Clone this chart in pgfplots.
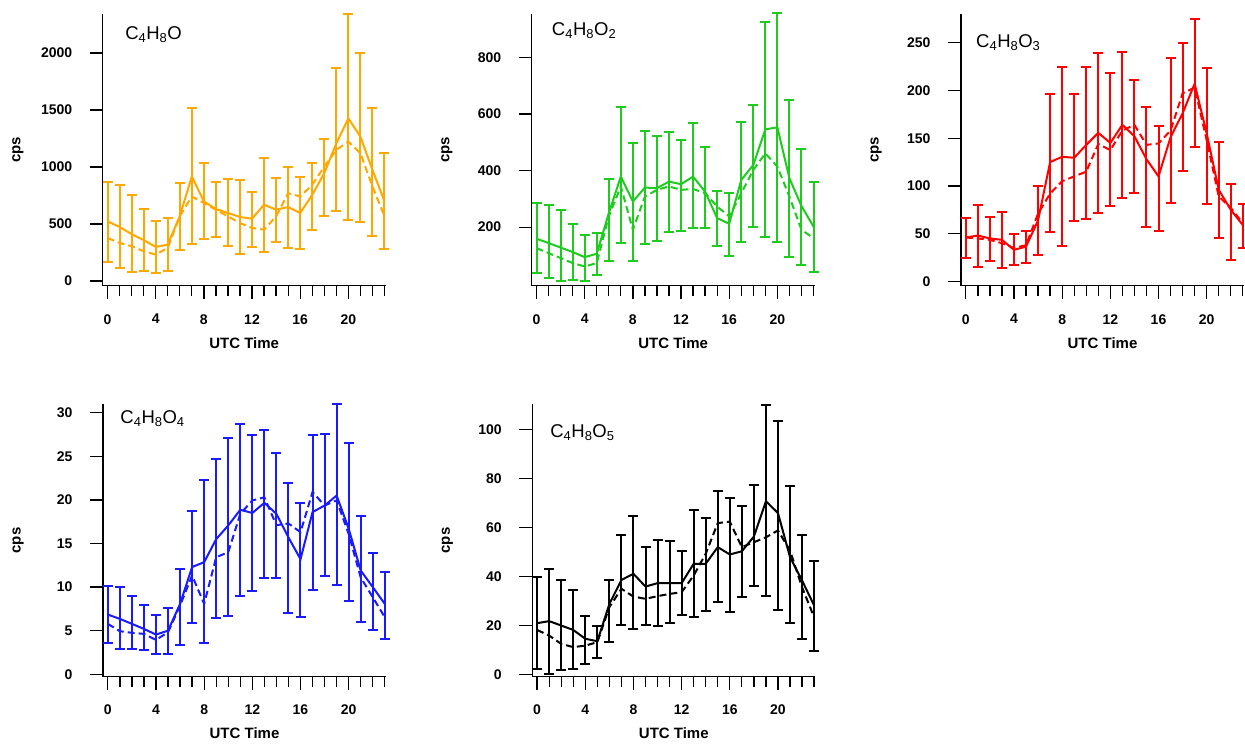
\documentclass[border=0pt]{standalone}
\usepackage{fontspec}
\setmainfont{Liberation Sans}
\usepackage{pgfplots}
\pgfplotsset{compat=1.18}
\usepackage{pgfplotstable}
\definecolor{corange}{HTML}{FFA800}
\definecolor{cgreen}{HTML}{1ECC1E}
\definecolor{cred}{HTML}{FF0000}
\definecolor{cblue}{HTML}{1A1AFF}
\definecolor{cblack}{HTML}{000000}

% x y(mean) d(dashed) hi lo
\pgfplotstableread{
x y d hi lo
0 524 378 867 169
1 475 335 844 116
2 412 306 757 79
3 360 262 632 93
4 300 233 524 73
5 320 291 553 93
6 570 568 859 277
7 917 742 1520 329
8 699 684 1033 370
9 632 626 867 384
10 597 568 897 306
11 562 509 888 239
12 547 466 783 300
13 670 451 1077 256
14 626 568 908 341
15 649 771 1004 291
16 597 742 917 282
17 757 844 1039 451
18 946 1004 1246 568
19 1208 1150 1869 617
20 1426 1223 2338 539
21 1266 1121 2003 515
22 975 830 1520 399
23 699 568 1127 282
}\tabA

\pgfplotstableread{
x y d hi lo
0 159 126 285 38
1 144 108 279 20
2 128 91 259 8
3 112 73 212 14
4 94 61 173 8
5 106 73 181 31
6 249 238 371 81
7 379 344 626 144
8 291 191 496 81
9 340 308 540 140
10 338 332 522 152
11 361 344 538 182
12 352 332 508 187
13 379 335 567 196
14 325 320 485 196
15 232 273 328 135
16 212 238 320 99
17 367 320 571 146
18 420 402 631 200
19 546 461 926 165
20 553 414 958 148
21 373 308 649 95
22 275 191 476 65
23 202 161 360 40
}\tabB

\pgfplotstableread{
x y d hi lo
0 46 46 66 25
1 48 45 80 15
2 45 43.5 67 21
3 43.5 40 73 14
4 33 35 50 17.4
5 36.5 38 53 19
6 64 71 100 28
7 125 92 196 51.5
8 130.5 105 224.6 36.6
9 129.5 110 196 63
10 143 115 224.6 65
11 155.6 144 239.6 72
12 145 137.5 218.7 79
13 164 158 240 87
14 152 164 210.7 93
15 128 143 183 57
16 110 144.5 162.6 53
17 151 158 234 82
18 176 197 249.6 115.6
19 207 203 275 141
20 155 148 223.5 81
21 96 89 146 45
22 75 77 102 22.6
23 59 61 81 35
}\tabC

\pgfplotstableread{
x y d hi lo
0 6.85 5.78 10.18 3.56
1 6.35 4.94 10.0 2.9
2 5.78 4.75 8.96 2.9
3 5.2 4.63 7.96 2.8
4 4.55 3.94 6.85 2.33
5 5.0 4.82 7.6 2.33
6 8.07 7.88 12.1 3.4
7 12.3 11.33 18.7 5.9
8 12.86 8.07 22.3 3.56
9 15.5 13.43 24.7 6.47
10 17.07 14.0 27.1 6.7
11 18.87 18.4 28.7 8.96
12 18.5 19.94 27.5 9.5
13 19.67 20.3 28.0 11.06
14 18.4 17.1 25.4 11.06
15 15.7 17.3 21.9 7.05
16 13.2 16.3 19.6 6.6
17 18.6 20.9 27.5 9.7
18 19.36 19.36 27.6 11.3
19 20.5 19.94 31.0 10.26
20 16.7 16.1 26.5 8.38
21 11.9 11.1 18.1 6.05
22 10.0 8.84 13.9 5.1
23 8.07 6.54 11.7 4.06
}\tabD

\pgfplotstableread{
x y d hi lo
0 20.95 18.2 39.7 2.3
1 21.8 15.9 42.9 0.3
2 20 12.5 38.4 1.9
3 18.2 11.2 34.6 2.2
4 14.6 11.8 23.8 4.1
5 13.6 13.2 20 6.8
6 28.8 27.5 38.6 13.2
7 38.6 35 57 20.3
8 41.1 31.8 64.6 18.4
9 35.9 30.9 52 20.4
10 37.3 32 55.1 19.7
11 37.3 32.9 54.3 21.1
12 37.3 33.6 50.6 24.1
13 45.2 40.4 67.2 23.4
14 45.2 49.3 64 26
15 52 61.8 74.7 29.5
16 49 62.4 72.1 25.4
17 50.3 52 68.6 31.6
18 56.3 54 77.4 36
19 70.7 56 110 32.2
20 65.9 58.8 103.3 26.5
21 47.9 50.6 77.1 21.1
22 38.4 35.6 57 14.6
23 28.2 23.4 46.3 9.8
}\tabE

\pgfplotsset{
  igor/.style={
    width=283pt, height=272pt, scale only axis,
    anchor=south west,
    xmin=-0.4, xmax=23.1,
    axis lines*=left,
    axis line style={line width=1.3pt},
    tick style={line width=1.3pt, black},
    minor tick style={line width=1.3pt, black},
    tick align=outside,
    major tick length=13pt, minor tick length=10pt,
    xtick={0,4,...,20}, minor xtick={0,...,23},
    ticklabel style={font=\fontsize{14}{14}\selectfont\bfseries},
    /pgf/number format/assume math mode=true,
    /pgf/number format/1000 sep={},
    xticklabel style={yshift=-12pt},
    yticklabel style={xshift=-14pt},
    xlabel={UTC Time}, ylabel={cps},
    label style={font=\fontsize{15}{15}\selectfont\bfseries},
    xlabel style={at={(axis description cs:0.5,-0.21)}, anchor=center},
    ylabel style={at={(axis description cs:-0.30,0.5)}, anchor=center},
    clip=false,
  },
  mean/.style={line width=2pt, error bars/.cd, y dir=both, y explicit,
    error bar style={line width=2pt},
    error mark options={rotate=90, mark size=5pt, line width=2pt}},
  dsh/.style={line width=2pt, dash pattern=on 7pt off 4pt},
}
\newcommand{\lab}{\fontsize{18.5}{19}\selectfont}

\begin{document}
\begin{tikzpicture}[x=1pt,y=1pt]
\useasboundingbox (0,0) rectangle (1245,747);

\begin{axis}[igor, at={(102.7pt,461.3pt)}, ymin=-40, ymax=2344, ytick={0,500,...,2000}]
\addplot[corange, mean] table[x=x, y=y, y error plus expr=\thisrow{hi}-\thisrow{y}, y error minus expr=\thisrow{y}-\thisrow{lo}] {\tabA};
\addplot[corange, dsh] table[x=x, y=d] {\tabA};
\node[anchor=base west, inner sep=0pt] at (rel axis cs:0.079,0.904) {\lab C\textsubscript{4}H\textsubscript{8}O};
\end{axis}

\begin{axis}[igor, at={(531.7pt,461.3pt)}, ymin=-7, ymax=955, ytick={200,400,600,800}]
\addplot[cgreen, mean] table[x=x, y=y, y error plus expr=\thisrow{hi}-\thisrow{y}, y error minus expr=\thisrow{y}-\thisrow{lo}] {\tabB};
\addplot[cgreen, dsh] table[x=x, y=d] {\tabB};
\node[anchor=base west, inner sep=0pt] at (rel axis cs:0.071,0.92) {\lab C\textsubscript{4}H\textsubscript{8}O\textsubscript{2}};
\end{axis}

\begin{axis}[igor, at={(961pt,461.3pt)}, ymin=-4.5, ymax=280.4, ytick={0,50,...,250}]
\addplot[cred, mean] table[x=x, y=y, y error plus expr=\thisrow{hi}-\thisrow{y}, y error minus expr=\thisrow{y}-\thisrow{lo}] {\tabC};
\addplot[cred, dsh] table[x=x, y=d] {\tabC};
\node[anchor=base west, inner sep=0pt] at (rel axis cs:0.053,0.877) {\lab C\textsubscript{4}H\textsubscript{8}O\textsubscript{3}};
\end{axis}

\begin{axis}[igor, at={(103pt,70.5pt)}, ymin=-0.26, ymax=30.95, ytick={0,5,...,30}]
\addplot[cblue, mean] table[x=x, y=y, y error plus expr=\thisrow{hi}-\thisrow{y}, y error minus expr=\thisrow{y}-\thisrow{lo}] {\tabD};
\addplot[cblue, dsh] table[x=x, y=d] {\tabD};
\node[anchor=base west, inner sep=0pt] at (rel axis cs:0.061,0.929) {\lab C\textsubscript{4}H\textsubscript{8}O\textsubscript{4}};
\end{axis}

\begin{axis}[igor, at={(532.3pt,70.5pt)}, ymin=-0.8, ymax=110.2, ytick={0,20,...,100}]
\addplot[cblack, mean] table[x=x, y=y, y error plus expr=\thisrow{hi}-\thisrow{y}, y error minus expr=\thisrow{y}-\thisrow{lo}] {\tabE};
\addplot[cblack, dsh] table[x=x, y=d] {\tabE};
\node[anchor=base west, inner sep=0pt] at (rel axis cs:0.063,0.88) {\lab C\textsubscript{4}H\textsubscript{8}O\textsubscript{5}};
\end{axis}
\end{tikzpicture}
\end{document}
